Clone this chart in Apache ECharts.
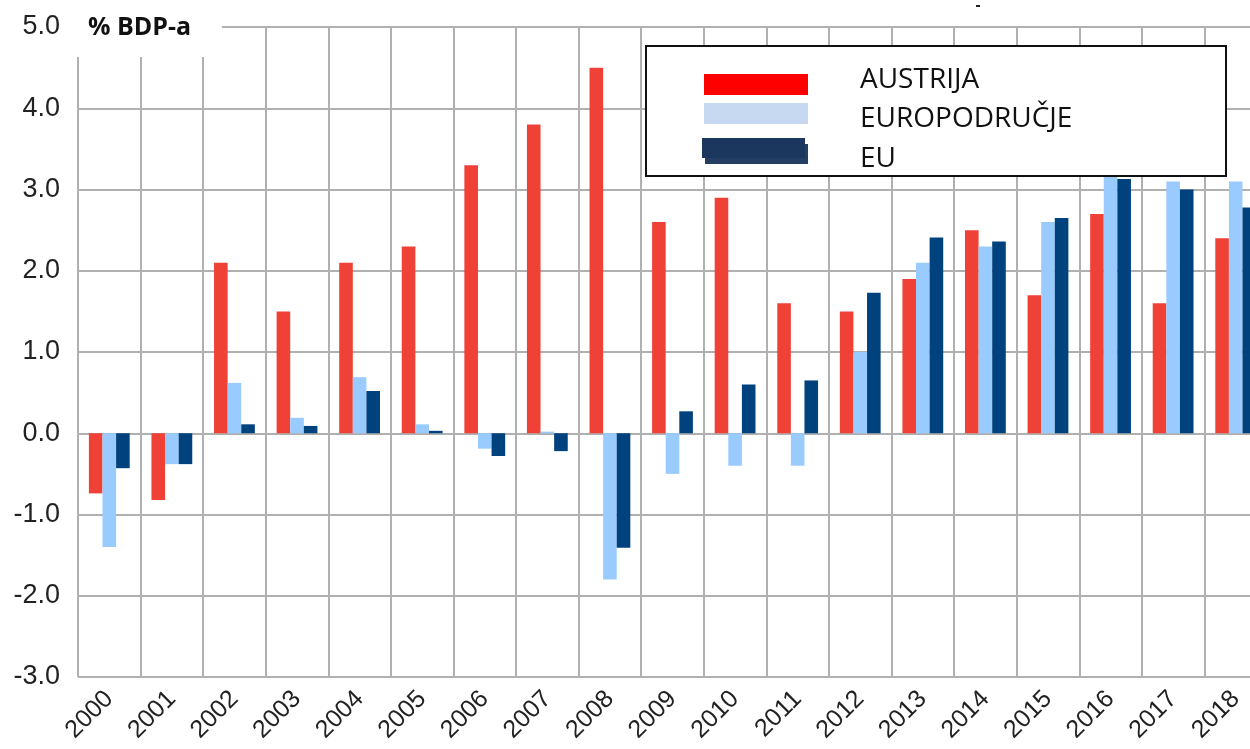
<!DOCTYPE html>
<html>
<head>
<meta charset="utf-8">
<script src="https://cdn.jsdelivr.net/npm/echarts@6/dist/echarts.min.js"></script>
<style>
  html, body { margin: 0; padding: 0; overflow: hidden; background: #fff; }
  #chart { width: 1268px; height: 749px; }
</style>
</head>
<body>
<div id="chart"></div>
<script>
// godine
var years = ['2000', '2001', '2002', '2003', '2004', '2005', '2006', '2007', '2008', '2009',
  '2010', '2011', '2012', '2013', '2014', '2015', '2016', '2017', '2018']
// % BDP-a
var austrija = [-0.74, -0.82, 2.1, 1.5, 2.1, 2.3, 3.3, 3.8, 4.5, 2.6,
  2.9, 1.6, 1.5, 1.9, 2.5, 1.7, 2.7, 1.6, 2.4]
var europodrucje = [-1.4, -0.38, 0.62, 0.19, 0.69, 0.11, -0.19, 0.02, -1.8, -0.5,
  -0.4, -0.4, 1.0, 2.1, 2.3, 2.6, 3.2, 3.1, 3.1]
var eu = [-0.43, -0.38, 0.11, 0.09, 0.52, 0.03, -0.28, -0.22, -1.41, 0.27,
  0.6, 0.65, 1.73, 2.41, 2.36, 2.65, 3.13, 3.0, 2.78]
var legendNames = ['AUSTRIJA', 'EUROPODRUČJE', 'EU']

var chart = echarts.init(document.getElementById('chart'))
var gridColor = '#b0b0b0'

// jedna legenda po retku; prazan red (s) pomice tekst gore/dolje u odnosu na oznaku
function legendRow(name, color, top, left, w, h, padLeft, before, after) {
  return {
    z: 30,
    left: left,
    top: top,
    padding: 0,
    itemWidth: w,
    itemHeight: h,
    icon: 'rect',
    selectedMode: false,
    formatter: function(n) {
      var s = '{t|' + n + '}'
      if (before) s = '{b| }\n' + s
      if (after) s = s + '\n{a| }'
      return s
    },
    textStyle: {
      color: '#111',
      padding: [0, 0, 0, padLeft],
      rich: {
        t: { fontFamily: 'Open Sans', fontSize: 28, lineHeight: 30, color: '#111' },
        b: { fontSize: 4, lineHeight: before || 1 },
        a: { fontSize: 4, lineHeight: after || 1 }
      }
    },
    data: [{ name: name, itemStyle: { color: color } }]
  }
}

var option = {
  animation: false,
  backgroundColor: '#fff',
  grid: { left: 78, right: 1, top: 27, bottom: 72 },
  xAxis: {
    type: 'category',
    data: years,
    boundaryGap: true,
    axisLine: { show: false },
    axisTick: { show: false },
    splitLine: { show: true, interval: 0, lineStyle: { color: gridColor, width: 2 } },
    axisLabel: {
      interval: 0,
      rotate: 45,
      margin: 18,
      fontFamily: 'Liberation Sans',
      fontSize: 25,
      color: '#222'
    }
  },
  yAxis: {
    type: 'value',
    min: -3,
    max: 5,
    interval: 1,
    axisLine: { show: false },
    axisTick: { show: false },
    splitLine: { lineStyle: { color: gridColor, width: 2 } },
    axisLabel: {
      margin: 18,
      fontFamily: 'Liberation Sans',
      fontSize: 27,
      color: '#222',
      formatter: function(v) { return v.toFixed(1) }
    }
  },
  legend: [
    legendRow(legendNames[0], '#ff0000', 66, 704, 104, 21, 47, 0, 9),
    legendRow(legendNames[1], '#c6d9f1', 96.5, 704, 104, 21, 47, 12, 0),
    legendRow(legendNames[2], '#1b375e', 131, 702, 103, 20, 50, 22, 0)
  ],
  series: [
    {
      name: legendNames[0], type: 'bar', data: austrija,
      barWidth: 13.6, barGap: '0%',
      itemStyle: { color: '#ef4136' }
    },
    {
      name: legendNames[1], type: 'bar', data: europodrucje,
      barWidth: 13.6, barGap: '0%',
      itemStyle: { color: '#9acbff' }
    },
    {
      name: legendNames[2], type: 'bar', data: eu,
      barWidth: 13.6, barGap: '0%',
      itemStyle: { color: '#00427e' }
    }
  ],
  graphic: [
    // bijela pozadina naslova osi
    { type: 'rect', z: 20, shape: { x: 74, y: 0, width: 148, height: 57 }, style: { fill: '#fff' } },
    {
      type: 'text', z: 21, left: 88, top: 15,
      style: { text: '% BDP-a', fontFamily: 'Open Sans', fontWeight: 'bold', fontSize: 25, fill: '#111' }
    },
    // okvir legende
    {
      type: 'rect', z: 20,
      shape: { x: 646, y: 46, width: 580, height: 130 },
      style: { fill: '#fff', stroke: '#111', lineWidth: 2 }
    },
    // sjena oznake EU
    { type: 'rect', z: 25, shape: { x: 705, y: 144, width: 103, height: 20 }, style: { fill: '#243e64' } },
    { type: 'rect', z: 20, shape: { x: 976, y: 5, width: 4, height: 2 }, style: { fill: '#222' } }
  ]
}
chart.setOption(option)
</script>
</body>
</html>
